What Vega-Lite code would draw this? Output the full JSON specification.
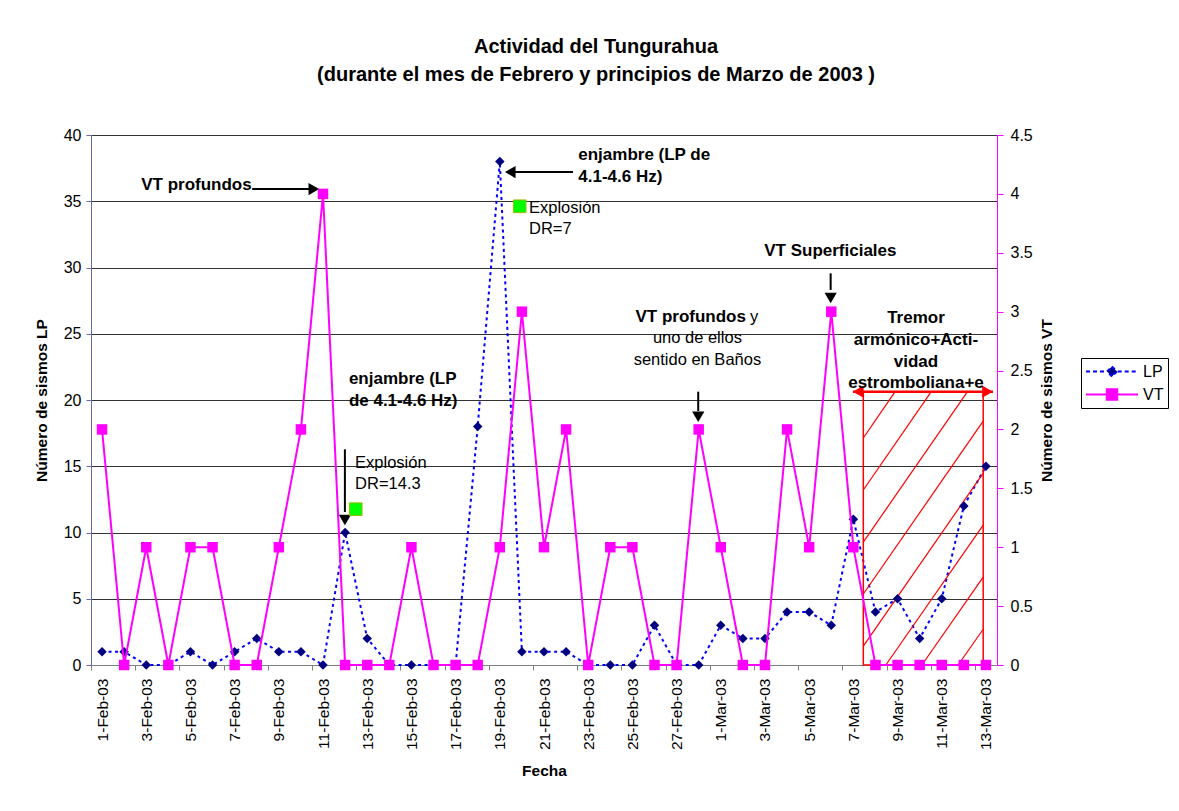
{
  "$schema": "https://vega.github.io/schema/vega-lite/v6.json",
  "autosize": {"type": "none"},
  "width": 906,
  "height": 530,
  "padding": {"left": 91, "top": 135, "right": 182, "bottom": 146},
  "background": "white",
  "title": {
    "text": ["Actividad del Tungurahua", "(durante el mes de Febrero y principios de Marzo de 2003 )"],
    "font": "Liberation Sans", "fontSize": 20, "fontWeight": "bold", "lineHeight": 28,
    "anchor": "middle", "frame": "group", "dx": 52, "offset": 42, "color": "black"
  },
  "datasets": {
    "serie": [
      {"fecha": "2003-02-01", "LP": 1, "VT": 2},
      {"fecha": "2003-02-02", "LP": 1, "VT": 0},
      {"fecha": "2003-02-03", "LP": 0, "VT": 1},
      {"fecha": "2003-02-04", "LP": 0, "VT": 0},
      {"fecha": "2003-02-05", "LP": 1, "VT": 1},
      {"fecha": "2003-02-06", "LP": 0, "VT": 1},
      {"fecha": "2003-02-07", "LP": 1, "VT": 0},
      {"fecha": "2003-02-08", "LP": 2, "VT": 0},
      {"fecha": "2003-02-09", "LP": 1, "VT": 1},
      {"fecha": "2003-02-10", "LP": 1, "VT": 2},
      {"fecha": "2003-02-11", "LP": 0, "VT": 4},
      {"fecha": "2003-02-12", "LP": 10, "VT": 0},
      {"fecha": "2003-02-13", "LP": 2, "VT": 0},
      {"fecha": "2003-02-14", "LP": 0, "VT": 0},
      {"fecha": "2003-02-15", "LP": 0, "VT": 1},
      {"fecha": "2003-02-16", "LP": 0, "VT": 0},
      {"fecha": "2003-02-17", "LP": 0, "VT": 0},
      {"fecha": "2003-02-18", "LP": 18, "VT": 0},
      {"fecha": "2003-02-19", "LP": 38, "VT": 1},
      {"fecha": "2003-02-20", "LP": 1, "VT": 3},
      {"fecha": "2003-02-21", "LP": 1, "VT": 1},
      {"fecha": "2003-02-22", "LP": 1, "VT": 2},
      {"fecha": "2003-02-23", "LP": 0, "VT": 0},
      {"fecha": "2003-02-24", "LP": 0, "VT": 1},
      {"fecha": "2003-02-25", "LP": 0, "VT": 1},
      {"fecha": "2003-02-26", "LP": 3, "VT": 0},
      {"fecha": "2003-02-27", "LP": 0, "VT": 0},
      {"fecha": "2003-02-28", "LP": 0, "VT": 2},
      {"fecha": "2003-03-01", "LP": 3, "VT": 1},
      {"fecha": "2003-03-02", "LP": 2, "VT": 0},
      {"fecha": "2003-03-03", "LP": 2, "VT": 0},
      {"fecha": "2003-03-04", "LP": 4, "VT": 2},
      {"fecha": "2003-03-05", "LP": 4, "VT": 1},
      {"fecha": "2003-03-06", "LP": 3, "VT": 3},
      {"fecha": "2003-03-07", "LP": 11, "VT": 1},
      {"fecha": "2003-03-08", "LP": 4, "VT": 0},
      {"fecha": "2003-03-09", "LP": 5, "VT": 0},
      {"fecha": "2003-03-10", "LP": 2, "VT": 0},
      {"fecha": "2003-03-11", "LP": 5, "VT": 0},
      {"fecha": "2003-03-12", "LP": 12, "VT": 0},
      {"fecha": "2003-03-13", "LP": 15, "VT": 0}
    ],
    "notas_negrita_izq": [
      {"fecha": "2003-02-22T13:12:00Z", "valor": 38.08, "texto": "enjambre (LP de\n4.1-4.6 Hz)"},
      {"fecha": "2003-02-12T04:05:00Z", "valor": 21.2, "texto": "enjambre (LP\nde 4.1-4.6 Hz)"}
    ],
    "notas_negrita_der": [
      {"fecha": "2003-02-07T18:30:00Z", "valor": 35.85, "texto": "VT profundos"},
      {"fecha": "2003-03-02T03:20:00Z", "valor": 25.86, "texto": "VT profundos"}
    ],
    "notas_negrita_centro": [
      {"fecha": "2003-03-05T23:00:00Z", "valor": 30.87, "texto": "VT Superficiales"},
      {"fecha": "2003-03-09T20:00:00Z", "valor": 25.83, "texto": "Tremor\narmónico+Acti-\nvidad\nestromboliana+e"}
    ],
    "notas_izq": [
      {"fecha": "2003-02-20T07:40:00Z", "valor": 34.14, "texto": "Explosión\nDR=7"},
      {"fecha": "2003-02-12T10:48:00Z", "valor": 14.84, "texto": "Explosión\nDR=14.3"},
      {"fecha": "2003-03-02T07:40:00Z", "valor": 25.86, "texto": "y"}
    ],
    "notas_centro": [
      {"fecha": "2003-02-27T22:36:00Z", "valor": 24.28, "texto": "uno de ellos\nsentido en Baños"}
    ],
    "flechas": [
      {"fecha": "2003-02-07T19:00:00Z", "valor": 35.92, "fecha2": "2003-02-10T09:50:00Z", "valor2": 35.92},
      {"fecha": "2003-02-22T07:30:00Z", "valor": 37.2, "fecha2": "2003-02-19T13:12:00Z", "valor2": 37.2},
      {"fecha": "2003-02-11T23:45:00Z", "valor": 16.28, "fecha2": "2003-02-11T23:45:00Z", "valor2": 11.55},
      {"fecha": "2003-02-27T23:30:00Z", "valor": 20.63, "fecha2": "2003-02-27T23:30:00Z", "valor2": 19.17},
      {"fecha": "2003-03-05T23:20:00Z", "valor": 29.56, "fecha2": "2003-03-05T23:20:00Z", "valor2": 28.3}
    ],
    "puntas": [
      {"fecha": "2003-02-10T14:00:00Z", "valor": 35.92, "dir": "derecha"},
      {"fecha": "2003-02-19T11:20:00Z", "valor": 37.2, "dir": "izquierda"},
      {"fecha": "2003-02-11T23:45:00Z", "valor": 10.94, "dir": "abajo"},
      {"fecha": "2003-02-27T23:30:00Z", "valor": 18.74, "dir": "abajo"},
      {"fecha": "2003-03-05T23:20:00Z", "valor": 27.7, "dir": "abajo"}
    ],
    "explosiones": [
      {"fecha": "2003-02-12T11:30:00Z", "valor": 11.76},
      {"fecha": "2003-02-19T21:36:00Z", "valor": 34.62}
    ],
    "zona": [
      {"fecha": "2003-03-07T10:48:00Z", "fecha2": "2003-03-12T21:00:00Z", "valor": 0, "valor2": 20.6}
    ],
    "flecha_zona": [
      {"fecha": "2003-03-06T23:30:00Z", "fecha2": "2003-03-13T07:40:00Z", "valor": 20.63}
    ],
    "puntas_zona": [
      {"fecha": "2003-03-07T05:17:00Z", "valor": 20.63, "dir": "izquierda"},
      {"fecha": "2003-03-13T01:41:00Z", "valor": 20.63, "dir": "derecha"}
    ],
    "trama": [
      {"fecha": "2003-03-07T10:48:00Z", "valor": 17.13, "fecha2": "2003-03-08T21:00:00Z", "valor2": 20.6},
      {"fecha": "2003-03-07T10:48:00Z", "valor": 13.21, "fecha2": "2003-03-10T12:15:00Z", "valor2": 20.6},
      {"fecha": "2003-03-07T10:48:00Z", "valor": 9.28, "fecha2": "2003-03-12T03:36:00Z", "valor2": 20.6},
      {"fecha": "2003-03-07T10:48:00Z", "valor": 5.36, "fecha2": "2003-03-12T21:00:00Z", "valor2": 18.4},
      {"fecha": "2003-03-07T10:48:00Z", "valor": 1.43, "fecha2": "2003-03-12T21:00:00Z", "valor2": 14.48},
      {"fecha": "2003-03-08T11:16:00Z", "valor": 0, "fecha2": "2003-03-12T21:00:00Z", "valor2": 10.55},
      {"fecha": "2003-03-10T02:24:00Z", "valor": 0, "fecha2": "2003-03-12T21:00:00Z", "valor2": 6.63},
      {"fecha": "2003-03-11T17:45:00Z", "valor": 0, "fecha2": "2003-03-12T21:00:00Z", "valor2": 2.7}
    ]
  },
  "encoding": {
    "x": {
      "field": "fecha", "type": "temporal",
      "scale": {"type": "utc", "domain": [
        {"year": 2003, "month": 1, "date": 31, "hours": 12, "utc": true},
        {"year": 2003, "month": 3, "date": 13, "hours": 12, "utc": true}
      ]},
      "axis": {
        "title": "Fecha",
        "values": [
          {"year": 2003, "month": 2, "date": 1, "utc": true},
          {"year": 2003, "month": 2, "date": 3, "utc": true},
          {"year": 2003, "month": 2, "date": 5, "utc": true},
          {"year": 2003, "month": 2, "date": 7, "utc": true},
          {"year": 2003, "month": 2, "date": 9, "utc": true},
          {"year": 2003, "month": 2, "date": 11, "utc": true},
          {"year": 2003, "month": 2, "date": 13, "utc": true},
          {"year": 2003, "month": 2, "date": 15, "utc": true},
          {"year": 2003, "month": 2, "date": 17, "utc": true},
          {"year": 2003, "month": 2, "date": 19, "utc": true},
          {"year": 2003, "month": 2, "date": 21, "utc": true},
          {"year": 2003, "month": 2, "date": 23, "utc": true},
          {"year": 2003, "month": 2, "date": 25, "utc": true},
          {"year": 2003, "month": 2, "date": 27, "utc": true},
          {"year": 2003, "month": 3, "date": 1, "utc": true},
          {"year": 2003, "month": 3, "date": 3, "utc": true},
          {"year": 2003, "month": 3, "date": 5, "utc": true},
          {"year": 2003, "month": 3, "date": 7, "utc": true},
          {"year": 2003, "month": 3, "date": 9, "utc": true},
          {"year": 2003, "month": 3, "date": 11, "utc": true},
          {"year": 2003, "month": 3, "date": 13, "utc": true}
        ],
        "format": "%-d-%b-%y",
        "labelAngle": 270, "labelFontSize": 15.5, "labelPadding": 8, "labelColor": "black",
        "labelOverlap": false, "labelFlush": false, "labelBound": false,
        "tickSize": 5, "tickOffset": -11, "labelOffset": 11,
        "domainColor": "#808080", "tickColor": "#808080",
        "titleFontSize": 15.5, "titleFontWeight": "bold", "titlePadding": 14, "titleColor": "black",
        "grid": false
      }
    }
  },
  "layer": [
    {
      "data": {"name": "serie"},
      "mark": {"type": "line", "color": "#0000ff", "strokeWidth": 2, "strokeDash": [3, 3.5]},
      "encoding": {
        "y": {
          "field": "LP", "type": "quantitative", "scale": {"domain": [0, 40], "nice": false},
          "axis": {
            "orient": "left",
            "title": "Número de sismos LP", "values": [0, 5, 10, 15, 20, 25, 30, 35, 40],
            "grid": true, "gridColor": "#333333", "gridWidth": 1,
            "domainColor": "#6666bb", "tickColor": "#6666bb", "tickSize": 5,
            "labelFontSize": 16, "labelPadding": 5, "labelColor": "black",
            "titleFontSize": 15.5, "titleFontWeight": "bold", "titlePadding": 14, "titleColor": "black"
          }
        }
      }
    },
    {
      "data": {"name": "zona"},
      "mark": {"type": "rect", "fillOpacity": 0, "stroke": "#ff0000", "strokeWidth": 1.5},
      "encoding": {
        "x2": {"field": "fecha2"},
        "y": {"field": "valor", "type": "quantitative", "scale": {"domain": [0, 40], "nice": false}, "axis": null},
        "y2": {"field": "valor2"}
      }
    },
    {
      "data": {"name": "trama"},
      "mark": {"type": "rule", "color": "#ff0000", "strokeWidth": 1.2},
      "encoding": {
        "x2": {"field": "fecha2"},
        "y": {"field": "valor", "type": "quantitative", "scale": {"domain": [0, 40], "nice": false}, "axis": null},
        "y2": {"field": "valor2"}
      }
    },
    {
      "data": {"name": "flecha_zona"},
      "mark": {"type": "rule", "color": "#ff0000", "strokeWidth": 2.5},
      "encoding": {
        "x2": {"field": "fecha2"},
        "y": {"field": "valor", "type": "quantitative", "scale": {"domain": [0, 40], "nice": false}, "axis": null}
      }
    },
    {
      "data": {"name": "puntas_zona"},
      "transform": [{"filter": "datum.dir === 'izquierda'"}],
      "mark": {"type": "point", "filled": true, "color": "#ff0000", "shape": "triangle-left", "size": 150, "opacity": 1},
      "encoding": {
        "y": {"field": "valor", "type": "quantitative", "scale": {"domain": [0, 40], "nice": false}, "axis": null}
      }
    },
    {
      "data": {"name": "puntas_zona"},
      "transform": [{"filter": "datum.dir === 'derecha'"}],
      "mark": {"type": "point", "filled": true, "color": "#ff0000", "shape": "triangle-right", "size": 150, "opacity": 1},
      "encoding": {
        "y": {"field": "valor", "type": "quantitative", "scale": {"domain": [0, 40], "nice": false}, "axis": null}
      }
    },
    {
      "data": {"name": "serie"},
      "mark": {"type": "point", "filled": true, "shape": "diamond", "size": 90, "opacity": 1, "color": "#000080"},
      "encoding": {
        "y": {"field": "LP", "type": "quantitative", "scale": {"domain": [0, 40], "nice": false}, "axis": null}
      }
    },
    {
      "data": {"name": "flechas"},
      "mark": {"type": "rule", "color": "black", "strokeWidth": 2},
      "encoding": {
        "x2": {"field": "fecha2"},
        "y": {"field": "valor", "type": "quantitative", "scale": {"domain": [0, 40], "nice": false}, "axis": null},
        "y2": {"field": "valor2"}
      }
    },
    {
      "data": {"name": "puntas"},
      "transform": [{"filter": "datum.dir === 'derecha'"}],
      "mark": {"type": "point", "filled": true, "color": "black", "shape": "triangle-right", "size": 150, "opacity": 1},
      "encoding": {
        "y": {"field": "valor", "type": "quantitative", "scale": {"domain": [0, 40], "nice": false}, "axis": null}
      }
    },
    {
      "data": {"name": "puntas"},
      "transform": [{"filter": "datum.dir === 'izquierda'"}],
      "mark": {"type": "point", "filled": true, "color": "black", "shape": "triangle-left", "size": 150, "opacity": 1},
      "encoding": {
        "y": {"field": "valor", "type": "quantitative", "scale": {"domain": [0, 40], "nice": false}, "axis": null}
      }
    },
    {
      "data": {"name": "puntas"},
      "transform": [{"filter": "datum.dir === 'abajo'"}],
      "mark": {"type": "point", "filled": true, "color": "black", "shape": "triangle-down", "size": 150, "opacity": 1},
      "encoding": {
        "y": {"field": "valor", "type": "quantitative", "scale": {"domain": [0, 40], "nice": false}, "axis": null}
      }
    },
    {
      "data": {"name": "explosiones"},
      "mark": {"type": "point", "shape": "square", "filled": true, "fill": "#00ff00", "stroke": "#99bb00", "strokeWidth": 1, "size": 160, "opacity": 1},
      "encoding": {
        "y": {"field": "valor", "type": "quantitative", "scale": {"domain": [0, 40], "nice": false}, "axis": null}
      }
    },
    {
      "data": {"name": "notas_negrita_izq"},
      "mark": {"type": "text", "font": "Liberation Sans", "fontSize": 17, "fontWeight": "bold", "align": "left", "baseline": "alphabetic", "lineBreak": "\n", "lineHeight": 21.5, "color": "black"},
      "encoding": {
        "y": {"field": "valor", "type": "quantitative", "scale": {"domain": [0, 40], "nice": false}, "axis": null},
        "text": {"field": "texto", "type": "nominal"}
      }
    },
    {
      "data": {"name": "notas_negrita_der"},
      "mark": {"type": "text", "font": "Liberation Sans", "fontSize": 17, "fontWeight": "bold", "align": "right", "baseline": "alphabetic", "lineBreak": "\n", "lineHeight": 21.5, "color": "black"},
      "encoding": {
        "y": {"field": "valor", "type": "quantitative", "scale": {"domain": [0, 40], "nice": false}, "axis": null},
        "text": {"field": "texto", "type": "nominal"}
      }
    },
    {
      "data": {"name": "notas_negrita_centro"},
      "mark": {"type": "text", "font": "Liberation Sans", "fontSize": 17, "fontWeight": "bold", "align": "center", "baseline": "alphabetic", "lineBreak": "\n", "lineHeight": 21.9, "color": "black"},
      "encoding": {
        "y": {"field": "valor", "type": "quantitative", "scale": {"domain": [0, 40], "nice": false}, "axis": null},
        "text": {"field": "texto", "type": "nominal"}
      }
    },
    {
      "data": {"name": "notas_izq"},
      "mark": {"type": "text", "font": "Liberation Sans", "fontSize": 16.5, "align": "left", "baseline": "alphabetic", "lineBreak": "\n", "lineHeight": 21, "color": "black"},
      "encoding": {
        "y": {"field": "valor", "type": "quantitative", "scale": {"domain": [0, 40], "nice": false}, "axis": null},
        "text": {"field": "texto", "type": "nominal"}
      }
    },
    {
      "data": {"name": "notas_centro"},
      "mark": {"type": "text", "font": "Liberation Sans", "fontSize": 16.5, "align": "center", "baseline": "alphabetic", "lineBreak": "\n", "lineHeight": 21.7, "color": "black"},
      "encoding": {
        "y": {"field": "valor", "type": "quantitative", "scale": {"domain": [0, 40], "nice": false}, "axis": null},
        "text": {"field": "texto", "type": "nominal"}
      }
    },
    {
      "data": {"name": "serie"},
      "mark": {"type": "line", "color": "#ff00ff", "strokeWidth": 2},
      "encoding": {
        "y": {
          "field": "VT", "type": "quantitative", "scale": {"domain": [0, 4.5], "nice": false},
          "axis": {
            "orient": "right", "title": "Número de sismos VT",
            "values": [0, 0.5, 1, 1.5, 2, 2.5, 3, 3.5, 4, 4.5], "format": "~g",
            "grid": false, "domainColor": "#ff00ff", "tickColor": "#ff00ff", "tickSize": 6,
            "labelFontSize": 16, "labelPadding": 7, "labelColor": "black",
            "titleFontSize": 15.5, "titleFontWeight": "bold", "titlePadding": 22, "titleColor": "black",
            "titleAngle": 270
          }
        }
      }
    },
    {
      "data": {"name": "serie"},
      "mark": {"type": "point", "filled": true, "shape": "square", "size": 110, "opacity": 1, "color": "#ff00ff"},
      "encoding": {
        "y": {"field": "VT", "type": "quantitative", "scale": {"domain": [0, 4.5], "nice": false}, "axis": null}
      }
    },
    {
      "data": {"values": []},
      "mark": {"type": "point", "filled": true, "size": 2704, "strokeWidth": 2, "opacity": 1},
      "encoding": {
        "fill": {
          "field": "serie", "type": "nominal",
          "scale": {"domain": ["LP", "VT"], "range": ["#000080", "#ff00ff"]},
          "legend": {"orient": "none", "legendX": 990, "legendY": 223, "title": null, "strokeColor": "black", "fillColor": "white", "padding": 4, "symbolSize": 2704, "clipHeight": 19, "rowPadding": 4, "labelFontSize": 16, "labelOffset": 4, "labelColor": "black", "labelFont": "Liberation Sans", "symbolStrokeWidth": 2, "symbolOpacity": 1}
        },
        "stroke": {
          "field": "serie", "type": "nominal",
          "scale": {"domain": ["LP", "VT"], "range": ["#0000ff", "#ff00ff"]},
          "legend": {"orient": "none", "legendX": 990, "legendY": 223, "title": null, "strokeColor": "black", "fillColor": "white", "padding": 4, "symbolSize": 2704, "clipHeight": 19, "rowPadding": 4, "labelFontSize": 16, "labelOffset": 4, "labelColor": "black", "labelFont": "Liberation Sans", "symbolStrokeWidth": 2, "symbolOpacity": 1}
        },
        "shape": {
          "field": "serie", "type": "nominal",
          "scale": {"domain": ["LP", "VT"], "range": ["M-1,0H-0.22M0.22,0H1M0,-0.19L0.19,0L0,0.19L-0.19,0Z", "M-1,0H-0.22M0.22,0H1M-0.2,-0.2H0.2V0.2H-0.2Z"]},
          "legend": {"orient": "none", "legendX": 990, "legendY": 223, "title": null, "strokeColor": "black", "fillColor": "white", "padding": 4, "symbolSize": 2704, "clipHeight": 19, "rowPadding": 4, "labelFontSize": 16, "labelOffset": 4, "labelColor": "black", "labelFont": "Liberation Sans", "symbolStrokeWidth": 2, "symbolOpacity": 1}
        },
        "strokeDash": {
          "field": "serie", "type": "nominal",
          "scale": {"domain": ["LP", "VT"], "range": [[4, 3], [1, 0]]},
          "legend": {"orient": "none", "legendX": 990, "legendY": 223, "title": null, "strokeColor": "black", "fillColor": "white", "padding": 4, "symbolSize": 2704, "clipHeight": 19, "rowPadding": 4, "labelFontSize": 16, "labelOffset": 4, "labelColor": "black", "labelFont": "Liberation Sans", "symbolStrokeWidth": 2, "symbolOpacity": 1}
        }
      }
    }
  ],
  "resolve": {"scale": {"y": "independent"}},
  "config": {
    "font": "Liberation Sans",
    "view": {"stroke": null},
    "axis": {"labelFont": "Liberation Sans", "titleFont": "Liberation Sans"}
  }
}
